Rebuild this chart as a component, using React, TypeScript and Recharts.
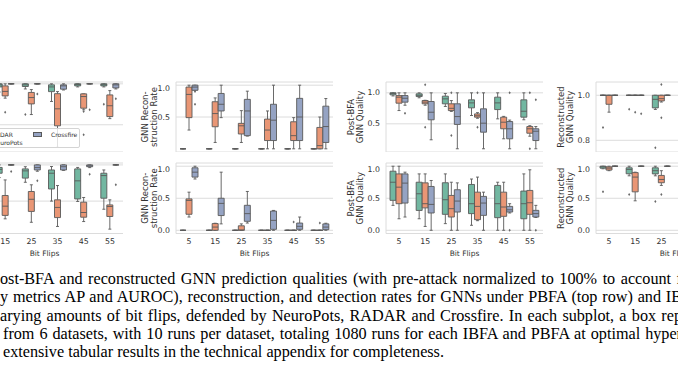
import React from 'react';
import { ComposedChart, Bar, XAxis, YAxis, CartesianGrid } from 'recharts';

// [whiskerLow, q1, median, q3, whiskerHigh, outliers]
type Box = [number, number, number, number, number, number[]];

const bitFlips = ['5', '15', '25', '35', '45', '55'];
const seriesNames = ['RADAR', 'NeuroPots', 'Crossfire'];
const seriesColors = ['#72b7a1', '#e99675', '#95a3c3'];

// ---- column A (left, partially visible) ----
const aTopRadar: Box[] = [
  [0.97, 0.985, 0.995, 1, 1, []],
  [0.96, 0.985, 0.995, 1, 1, [0.927]],
  [0.975, 0.987, 0.995, 1, 1, [0.85]],
  [0.914, 0.962, 0.985, 0.995, 1, []],
  [0.985, 0.99, 0.997, 1, 1, []],
  [0.985, 0.99, 0.996, 1, 1, [0.9]],
];
const aTopNeuro: Box[] = [
  [0.9, 0.95, 0.975, 0.995, 1, [0.85]],
  [0.93, 0.941, 0.963, 0.99, 1, [0.861]],
  [0.85, 0.902, 0.933, 0.958, 0.972, []],
  [0.69, 0.795, 0.878, 0.952, 0.962, []],
  [0.873, 0.881, 0.938, 0.951, 0.951, [0.865, 0.751]],
  [0.83, 0.84, 0.893, 0.946, 0.967, []],
];
const aTopCross: Box[] = [
  [1, 1, 1, 1, 1, []],
  [1, 1, 1, 1, 1, []],
  [1, 1, 1, 1, 1, [0.95]],
  [0.97, 0.974, 0.99, 0.995, 1, []],
  [1, 1, 1, 1, 1, [0.873]],
  [0.975, 0.98, 0.995, 1, 1, [0.927]],
];
const aBotRadar: Box[] = [
  [0.95, 0.97, 0.985, 0.995, 1, []],
  [0.93, 0.954, 0.975, 0.986, 1, []],
  [0.904, 0.927, 0.967, 0.978, 0.99, []],
  [0.8, 0.867, 0.954, 0.972, 0.991, []],
  [0.798, 0.812, 0.912, 0.978, 0.986, []],
  [0.755, 0.816, 0.941, 0.954, 0.972, []],
];
const aBotNeuro: Box[] = [
  [0.72, 0.76, 0.8, 0.85, 0.93, []],
  [0.702, 0.721, 0.772, 0.831, 0.917, []],
  [0.683, 0.743, 0.81, 0.853, 0.89, []],
  [0.66, 0.709, 0.765, 0.807, 0.886, []],
  [0.687, 0.711, 0.737, 0.794, 0.82, []],
  [0.645, 0.715, 0.77, 0.779, 0.807, []],
];
const aBotCross: Box[] = [
  [1, 1, 1, 1, 1, []],
  [1, 1, 1, 1, 1, [0.963]],
  [0.965, 0.972, 0.985, 1, 1, [0.912]],
  [0.97, 0.972, 0.99, 1, 1, []],
  [0.985, 0.99, 0.995, 1, 1, [0.949]],
  [1, 1, 1, 1, 1, [0.89]],
];

// ---- column B: GNN reconstruction rate ----
const bTopRadar: Box[] = [
  [0, 0, 0, 0, 0, []], [0, 0, 0, 0, 0, []], [0, 0, 0, 0, 0, []],
  [0, 0, 0, 0, 0, []], [0, 0, 0, 0, 0, []], [0, 0, 0, 0, 0, []],
];
const bTopNeuro: Box[] = [
  [0.295, 0.49, 0.855, 0.97, 1.0, []],
  [0.1, 0.347, 0.554, 0.74, 0.8, []],
  [0.1, 0.233, 0.362, 0.4, 0.6, []],
  [0, 0.13, 0.295, 0.467, 0.595, []],
  [0, 0.13, 0.207, 0.425, 0.49, []],
  [0, 0, 0.05, 0.336, 0.5, []],
];
const bTopCross: Box[] = [
  [0.92, 0.92, 0.97, 1.0, 1.0, [0.7, 0.9]],
  [0.49, 0.595, 0.7, 0.87, 1.0, []],
  [0.2, 0.207, 0.595, 0.777, 0.906, []],
  [0, 0.13, 0.45, 0.7, 1.0, []],
  [0, 0.13, 0.5, 0.793, 1.0, []],
  [0, 0.1, 0.35, 0.67, 0.79, []],
];
const bBotRadar: Box[] = [
  [0, 0, 0, 0, 0, []], [0, 0, 0, 0, 0, []], [0, 0, 0, 0, 0, []],
  [0, 0, 0, 0, 0, []], [0, 0, 0, 0, 0, []], [0, 0, 0, 0, 0, []],
];
const bBotNeuro: Box[] = [
  [0.207, 0.25, 0.466, 0.49, 0.595, []],
  [0, 0, 0.05, 0.105, 0.11, []],
  [0, 0, 0.005, 0.07, 0.1, []],
  [0, 0, 0, 0, 0, []],
  [0, 0, 0, 0, 0, [0.13]],
  [0, 0, 0, 0, 0, [0.113]],
];
const bBotCross: Box[] = [
  [0.8, 0.83, 0.907, 0.975, 1.0, []],
  [0.1, 0.23, 0.42, 0.5, 0.907, []],
  [0.113, 0.14, 0.26, 0.39, 0.606, []],
  [0, 0.015, 0.155, 0.3, 0.31, []],
  [0, 0.015, 0.062, 0.113, 0.207, []],
  [0, 0.01, 0.05, 0.1, 0.11, []],
];

// ---- column C: post-BFA GNN quality ----
const cTopRadar: Box[] = [
  [0.95, 0.968, 0.99, 1.0, 1.0, []],
  [0.92, 0.94, 0.96, 0.984, 1.0, []],
  [0.78, 0.823, 0.903, 0.946, 0.99, []],
  [0.634, 0.758, 0.838, 0.887, 1.0, []],
  [0.58, 0.73, 0.838, 0.93, 1.0, []],
  [0.565, 0.607, 0.703, 0.887, 1.0, []],
];
const cTopNeuro: Box[] = [
  [0.714, 0.833, 0.93, 0.956, 1.0, []],
  [0.8, 0.823, 0.85, 0.876, 0.88, [1.13, 0.445]],
  [0.7, 0.714, 0.75, 0.823, 0.875, [1.0, 0.31]],
  [0.59, 0.607, 0.63, 0.66, 0.68, [1.0, 0.445]],
  [0.258, 0.42, 0.526, 0.607, 0.62, []],
  [0.3, 0.348, 0.42, 0.456, 0.47, [1.0, 0.097]],
];
const cTopCross: Box[] = [
  [0.8, 0.85, 0.913, 0.956, 1.0, [0.67]],
  [0.242, 0.565, 0.687, 0.86, 1.0, []],
  [0.097, 0.49, 0.617, 0.823, 1.0, []],
  [0.097, 0.365, 0.51, 0.742, 1.0, []],
  [0.097, 0.258, 0.42, 0.537, 0.56, [1.0]],
  [0.097, 0.23, 0.38, 0.42, 0.456, [0.887]],
];
const cBotRadar: Box[] = [
  [0.389, 0.467, 0.75, 0.922, 1.0, []],
  [0.18, 0.31, 0.57, 0.75, 0.88, []],
  [0.104, 0.249, 0.477, 0.742, 0.88, []],
  [0.078, 0.26, 0.415, 0.715, 0.8, []],
  [0, 0.197, 0.415, 0.7, 0.75, []],
  [0, 0.18, 0.415, 0.612, 0.88, []],
];
const cBotNeuro: Box[] = [
  [0.18, 0.415, 0.673, 0.88, 1.0, []],
  [0.06, 0.35, 0.415, 0.74, 0.88, []],
  [0, 0.207, 0.337, 0.544, 0.75, []],
  [0.15, 0.166, 0.373, 0.595, 0.83, []],
  [0, 0.218, 0.363, 0.595, 0.75, []],
  [0, 0.249, 0.43, 0.622, 0.944, []],
];
const cBotCross: Box[] = [
  [0.207, 0.425, 0.736, 0.88, 0.907, []],
  [0, 0.27, 0.404, 0.684, 0.777, []],
  [0, 0.285, 0.456, 0.633, 0.74, []],
  [0, 0.233, 0.425, 0.529, 0.595, []],
  [0.27, 0.285, 0.32, 0.373, 0.415, [0]],
  [0.2, 0.207, 0.26, 0.311, 0.389, [0]],
];

// ---- column D: reconstructed GNN quality (partially visible) ----
const dTopRadar: Box[] = [
  [1, 1, 1, 1, 1, [0.857]],
  [1, 1, 1, 1, 1, [0.938]],
  [0.937, 0.944, 0.982, 1, 1, [0.767]],
  [1, 1, 1, 1, 1, []],
  [1, 1, 1, 1, 1, []],
  [1, 1, 1, 1, 1, []],
];
const dTopNeuro: Box[] = [
  [0.925, 0.96, 1, 1, 1, []],
  [1, 1, 1, 1, 1, [0.925]],
  [0.97, 0.975, 0.985, 1, 1, [1.048, 0.9]],
  [0.96, 0.97, 0.99, 1, 1, []],
  [0.95, 0.97, 0.99, 1, 1, []],
  [0.95, 0.96, 0.98, 1, 1, []],
];
const dTopCross: Box[] = [
  [1, 1, 1, 1, 1, []],
  [1, 1, 1, 1, 1, [0.918]],
  [1, 1, 1, 1, 1, []],
  [1, 1, 1, 1, 1, []],
  [1, 1, 1, 1, 1, []],
  [1, 1, 1, 1, 1, []],
];
const dBotRadar: Box[] = [
  [0.96, 0.97, 0.99, 1, 1, [0.6]],
  [0.85, 0.882, 0.95, 0.975, 1, [0.56]],
  [0.85, 0.88, 0.93, 0.975, 1, [0.45]],
  [0.9, 0.93, 0.96, 0.98, 1, []],
  [0.9, 0.93, 0.96, 0.98, 1, []],
  [0.9, 0.93, 0.96, 0.98, 1, []],
];
const dBotNeuro: Box[] = [
  [0.93, 0.94, 0.97, 0.99, 1, []],
  [0.46, 0.6, 0.83, 0.9, 0.907, []],
  [0.7, 0.742, 0.793, 0.856, 0.93, [0.56]],
  [0.6, 0.7, 0.78, 0.85, 0.95, []],
  [0.6, 0.7, 0.78, 0.85, 0.95, []],
  [0.6, 0.7, 0.78, 0.85, 0.95, []],
];
const dBotCross: Box[] = [
  [1, 1, 1, 1, 1, []], [1, 1, 1, 1, 1, []], [1, 1, 1, 1, 1, []],
  [1, 1, 1, 1, 1, []], [1, 1, 1, 1, 1, []], [1, 1, 1, 1, 1, []],
];

const yLabelB = ['GNN Recon-', 'struction Rate'];
const yLabelC = ['Post-BFA', 'GNN Quality'];
const yLabelD = ['Reconstructed', 'GNN Quality'];
const xLabel = 'Bit Flips';

const captionLines = [
  'ost-BFA and reconstructed GNN prediction qualities (with pre-attack normalized to 100% to account f',
  'y metrics AP and AUROC), reconstruction, and detection rates for GNNs under PBFA (top row) and IB',
  'arying amounts of bit flips, defended by NeuroPots, RADAR and Crossfire. In each subplot, a box rep',
  'from 6 datasets, with 10 runs per dataset, totaling 1080 runs for each IBFA and PBFA at optimal hyper',
  'extensive tabular results in the technical appendix for completeness.',
];

// ---- styling ----
const lineGray = '#595959';
const gridColor = '#dcdcdc';
const textColor = '#333333';
const sans = 'DejaVu Sans, sans-serif';

const seriesKeys = ['s0', 's1', 's2'];

function buildRows(a: Box[], b: Box[], c: Box[]) {
  return bitFlips.map((cat, i) => ({ cat, s0: a[i], s1: b[i], s2: c[i] }));
}

function boxRange(bx: Box): [number, number] {
  const lo = Math.min(bx[0], ...bx[5]);
  let hi = Math.max(bx[4], ...bx[5]);
  if (hi - lo < 1e-6) hi = lo + 1e-6;
  return [lo, hi];
}

function makeBoxShape(key: string, color: string) {
  return (props: any) => {
    const { x, y, width, height, payload } = props;
    const bx: Box = payload[key];
    if (!bx || x == null || y == null) return <g />;
    const [lo, hi] = boxRange(bx);
    const top = Math.min(y, y + height);
    const bot = Math.max(y, y + height);
    const pix = (v: number) => top + ((hi - v) / (hi - lo)) * (bot - top);
    const cx = x + width / 2;
    const capW = width / 4;
    const yLo = pix(bx[0]);
    const yQ1 = pix(bx[1]);
    const yMed = pix(bx[2]);
    const yQ3 = pix(bx[3]);
    const yHi = pix(bx[4]);
    const sw = 0.9;
    return (
      <g>
        <line x1={cx} x2={cx} y1={yQ3} y2={yHi} stroke={lineGray} strokeWidth={sw} />
        <line x1={cx} x2={cx} y1={yQ1} y2={yLo} stroke={lineGray} strokeWidth={sw} />
        <line x1={cx - capW} x2={cx + capW} y1={yHi} y2={yHi} stroke={lineGray} strokeWidth={sw} />
        <line x1={cx - capW} x2={cx + capW} y1={yLo} y2={yLo} stroke={lineGray} strokeWidth={sw} />
        <path
          d={`M${x},${yQ3}H${x + width}V${yQ1}H${x}Z`}
          fill={color}
          stroke={lineGray}
          strokeWidth={sw}
        />
        <line x1={x} x2={x + width} y1={yMed} y2={yMed} stroke={lineGray} strokeWidth={sw} />
        {bx[5].map((o, i) => {
          const oy = pix(o);
          return (
            <path
              key={i}
              d={`M${cx},${oy - 1.5}L${cx + 1.1},${oy}L${cx},${oy + 1.5}L${cx - 1.1},${oy}Z`}
              fill="#6a6a6a"
            />
          );
        })}
      </g>
    );
  };
}

const fmt1 = (v: number) => v.toFixed(1);

function makeYLabel(lines: string[] | null, off: number) {
  return (props: any) => {
    if (!lines) return null;
    const vb = props.viewBox || {};
    const cy = vb.y + vb.height / 2;
    const right = vb.x + vb.width;
    return (
      <g>
        {lines.map((t, i) => {
          const cx = right - off + i * 8.7;
          return (
            <text
              key={i}
              x={cx}
              y={cy}
              transform={`rotate(-90 ${cx} ${cy})`}
              textAnchor="middle"
              dominantBaseline="central"
              fontSize={8.5}
              fontFamily={sans}
              fill={textColor}
            >
              {t}
            </text>
          );
        })}
      </g>
    );
  };
}

const xLabelContent = (props: any) => {
  const vb = props.viewBox || {};
  return (
    <text
      x={vb.x + vb.width / 2}
      y={vb.y + 19.7}
      textAnchor="middle"
      dominantBaseline="central"
      fontSize={7.5}
      fontFamily={sans}
      fill={textColor}
    >
      {xLabel}
    </text>
  );
};

const xTick = (p: any) => (
  <text
    x={p.x}
    y={p.y + 8.4}
    textAnchor="middle"
    dominantBaseline="central"
    fontSize={7.8}
    fontFamily={sans}
    fill={textColor}
  >
    {p.payload.value}
  </text>
);

const yTick = (p: any) => (
  <text
    x={p.x - 6}
    y={p.y}
    textAnchor="end"
    dominantBaseline="central"
    fontSize={7.8}
    fontFamily={sans}
    fill={textColor}
  >
    {fmt1(p.payload.value)}
  </text>
);

interface PanelProps {
  rows: any[];
  domain: [number, number];
  ticks: number[];
  plotLeft: number;
  plotTop: number;
  plotH: number;
  bottom: boolean;
  ylabel: string[] | null;
  labelOff: number;
}

const ML = 45;
const PW = 157;
const MT = 3;
const MR = 3;

function Panel({ rows, domain, ticks, plotLeft, plotTop, plotH, bottom, ylabel, labelOff }: PanelProps) {
  const XH = bottom ? 30 : 0;
  return (
    <div style={{ position: 'absolute', left: plotLeft - ML, top: plotTop - MT }}>
      <ComposedChart
        width={ML + PW + MR}
        height={MT + plotH + XH}
        data={rows}
        margin={{ top: MT, right: MR, bottom: 0, left: 0 }}
        barGap={0}
        barSize={6}
      >
        <CartesianGrid vertical={false} stroke={gridColor} />
        <XAxis
          dataKey="cat"
          height={XH}
          axisLine={{ stroke: gridColor }}
          tickLine={false}
          tickSize={0}
          tickMargin={0}
          interval={0}
          tick={bottom ? xTick : false}
          label={bottom ? xLabelContent : undefined}
        />
        <XAxis
          xAxisId="top"
          orientation="top"
          dataKey="cat"
          height={0}
          axisLine={{ stroke: gridColor }}
          tickLine={false}
          tick={false}
        />
        <YAxis
          type="number"
          domain={domain}
          ticks={ticks}
          allowDataOverflow
          width={ML}
          axisLine={{ stroke: gridColor }}
          tickLine={false}
          tickSize={0}
          tickMargin={0}
          tick={yTick}
          label={makeYLabel(ylabel, labelOff)}
        />
        <YAxis
          yAxisId="right"
          orientation="right"
          type="number"
          domain={domain}
          width={0}
          axisLine={{ stroke: gridColor }}
          tickLine={false}
          tick={false}
        />
        {seriesKeys.map((k, i) => (
          <Bar
            key={k}
            name={seriesNames[i]}
            dataKey={(d: any) => boxRange(d[k])}
            fill={seriesColors[i]}
            shape={makeBoxShape(k, seriesColors[i])}
            isAnimationActive={false}
          />
        ))}
      </ComposedChart>
    </div>
  );
}

const colLeft = [-34, 176, 386, 596];
const rowTop = [81.5, 162.8];
const rowH = [70, 70.5];
const fullTicks = [0, 0.5, 1.0];
const fullDomain: [number, number] = [-0.05, 1.05];

function Legend() {
  return (
    <div
      style={{
        position: 'absolute',
        left: -20,
        top: 128.3,
        width: 100,
        height: 20,
        background: 'rgba(255,255,255,0.8)',
        border: '1px solid #d4d4d4',
        borderRadius: 2,
        boxSizing: 'border-box',
        fontFamily: sans,
        fontSize: 6,
        color: textColor,
      }}
    >
      {[
        { i: 0, lx: -6, ty: 4.7 },
        { i: 1, lx: -6, ty: 13.4 },
        { i: 2, lx: 53, ty: 4.7 },
      ].map(({ i, lx, ty }) => (
        <div key={i} style={{ position: 'absolute', left: lx - 1, top: ty - 2.2, height: 5, display: 'flex', alignItems: 'center', whiteSpace: 'nowrap' }}>
          <span style={{ display: 'inline-block', width: 9, height: 4.5, background: seriesColors[i], border: `0.6px solid ${lineGray}`, boxSizing: 'border-box', marginRight: 9 }} />
          <span style={{ lineHeight: '5px' }}>{seriesNames[i]}</span>
        </div>
      ))}
    </div>
  );
}

export default function App() {
  return (
    <div
      style={{
        position: 'absolute',
        left: 0,
        top: 0,
        width: 678,
        height: 381,
        overflow: 'hidden',
        background: '#ffffff',
      }}
    >
      <Panel rows={buildRows(aTopRadar, aTopNeuro, aTopCross)} domain={[0.667, 1.009]} ticks={[0.7, 0.8, 0.9, 1.0]}
        plotLeft={colLeft[0]} plotTop={rowTop[0]} plotH={rowH[0]} bottom={false} ylabel={null} labelOff={35} />
      <Panel rows={buildRows(aBotRadar, aBotNeuro, aBotCross)} domain={[0.621, 1.0105]} ticks={[0.7, 0.8, 0.9, 1.0]}
        plotLeft={colLeft[0]} plotTop={rowTop[1]} plotH={rowH[1]} bottom ylabel={null} labelOff={35} />
      <Panel rows={buildRows(bTopRadar, bTopNeuro, bTopCross)} domain={fullDomain} ticks={fullTicks}
        plotLeft={colLeft[1]} plotTop={rowTop[0]} plotH={rowH[0]} bottom={false} ylabel={yLabelB} labelOff={31} />
      <Panel rows={buildRows(bBotRadar, bBotNeuro, bBotCross)} domain={fullDomain} ticks={fullTicks}
        plotLeft={colLeft[1]} plotTop={rowTop[1]} plotH={rowH[1]} bottom ylabel={yLabelB} labelOff={31} />
      <Panel rows={buildRows(cTopRadar, cTopNeuro, cTopCross)} domain={[0.045, 1.175]} ticks={[0.5, 1.0]}
        plotLeft={colLeft[2]} plotTop={rowTop[0]} plotH={rowH[0]} bottom={false} ylabel={yLabelC} labelOff={35} />
      <Panel rows={buildRows(cBotRadar, cBotNeuro, cBotCross)} domain={fullDomain} ticks={fullTicks}
        plotLeft={colLeft[2]} plotTop={rowTop[1]} plotH={rowH[1]} bottom ylabel={yLabelC} labelOff={35} />
      <Panel rows={buildRows(dTopRadar, dTopNeuro, dTopCross)} domain={[0.748, 1.059]} ticks={[0.8, 0.9, 1.0]}
        plotLeft={colLeft[3]} plotTop={rowTop[0]} plotH={rowH[0]} bottom={false} ylabel={yLabelD} labelOff={35} />
      <Panel rows={buildRows(dBotRadar, dBotNeuro, dBotCross)} domain={fullDomain} ticks={fullTicks}
        plotLeft={colLeft[3]} plotTop={rowTop[1]} plotH={rowH[1]} bottom ylabel={yLabelD} labelOff={35} />
      <Legend />
      {captionLines.map((t, i) => {
        const last = i === captionLines.length - 1;
        return (
          <div
            key={i}
            style={{
              position: 'absolute',
              left: i >= 3 ? 3 : 0,
              top: 270 + i * 18.3,
              width: last ? 'auto' : (i >= 3 ? 679 : 682),
              fontFamily: 'Liberation Serif, serif',
              fontSize: 16.2,
              lineHeight: '18px',
              color: '#000',
              whiteSpace: 'nowrap',
              textAlign: last ? 'left' : 'justify',
              textAlignLast: last ? 'left' : 'justify',
            } as React.CSSProperties}
          >
            {t}
          </div>
        );
      })}
    </div>
  );
}
